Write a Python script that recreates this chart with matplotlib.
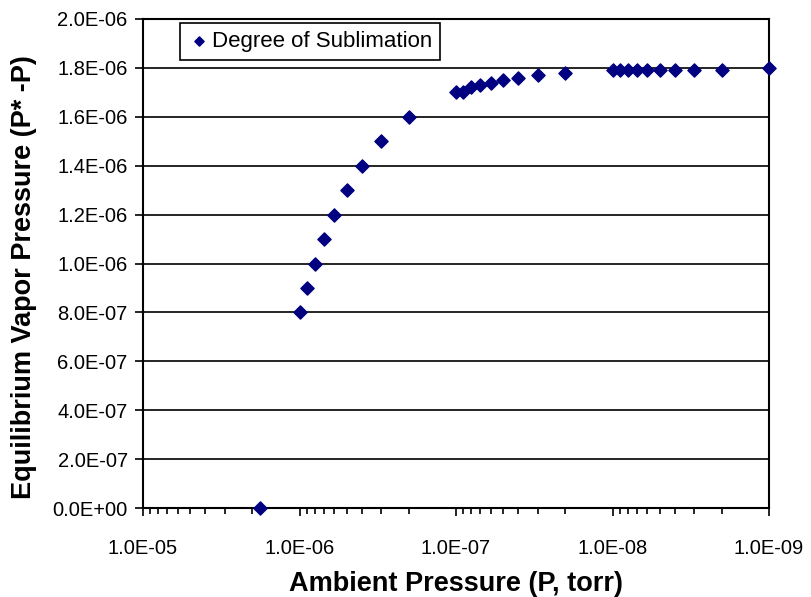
import numpy as np
import matplotlib
matplotlib.use("Agg")
import matplotlib.pyplot as plt
from matplotlib.ticker import FixedLocator, FuncFormatter, LogLocator, NullFormatter

plt.rcParams['font.family'] = ['Liberation Sans', 'DejaVu Sans']

# ambient pressure (torr) and equilibrium vapour pressure
ambient = [1.8e-6, 1e-6, 9e-7, 8e-7, 7e-7, 6e-7, 5e-7, 4e-7, 3e-7, 2e-7,
           1e-7, 9e-8, 8e-8, 7e-8, 6e-8, 5e-8, 4e-8, 3e-8, 2e-8,
           1e-8, 9e-9, 8e-9, 7e-9, 6e-9, 5e-9, 4e-9, 3e-9, 2e-9, 1e-9]
vapor = [0.0, 0.8e-6, 0.9e-6, 1.0e-6, 1.1e-6, 1.2e-6, 1.3e-6, 1.4e-6, 1.5e-6, 1.6e-6,
         1.70e-6, 1.70e-6, 1.72e-6, 1.73e-6, 1.74e-6, 1.75e-6, 1.76e-6, 1.77e-6, 1.78e-6,
         1.79e-6, 1.79e-6, 1.79e-6, 1.79e-6, 1.79e-6, 1.79e-6, 1.79e-6, 1.79e-6, 1.79e-6, 1.80e-6]
y_ticks = np.arange(0, 2.01e-6, 0.2e-6)

fig = plt.figure(figsize=(8.11, 5.97), dpi=100)
ax = fig.add_axes([143/811, 1 - 508/597, (769 - 143)/811, (508 - 19)/597])

ax.scatter(ambient, vapor, marker='D', s=45, color='#000080', zorder=3,
           clip_on=False, label='Degree of Sublimation')

ax.set_xscale('log')
ax.set_xlim(1e-5, 1e-9)
ax.set_ylim(0, 2e-6)

ax.xaxis.set_major_locator(FixedLocator([1e-5, 1e-6, 1e-7, 1e-8, 1e-9]))
ax.xaxis.set_minor_locator(LogLocator(base=10, subs=np.arange(2, 10)))
ax.xaxis.set_minor_formatter(NullFormatter())
ax.xaxis.set_major_formatter(FuncFormatter(lambda v, p: f"{v:.1E}"))
ax.yaxis.set_major_locator(FixedLocator(y_ticks))
ax.yaxis.set_major_formatter(FuncFormatter(lambda v, p: f"{v:.1E}"))

ax.tick_params(axis='both', which='major', labelsize=14.5, length=6, width=1.2,
               direction='out', colors='black')
ax.tick_params(axis='x', which='minor', length=4, width=1.2, direction='out')
ax.tick_params(axis='x', which='major', pad=16)
ax.tick_params(axis='y', which='major', pad=5)

ax.grid(axis='y', color='black', linewidth=1.2)
ax.set_axisbelow(True)
for s in ax.spines.values():
    s.set_linewidth(1.5)
    s.set_color('black')

ax.set_xlabel('Ambient Pressure (P, torr)', fontsize=19.5, fontweight='bold', labelpad=10)
ax.set_ylabel('Equilibrium Vapor Pressure (P* -P)', fontsize=19.5, fontweight='bold')
ax.yaxis.set_label_coords(-0.17, 0.472)

leg = ax.legend(loc='upper left', bbox_to_anchor=(0.052, 1.0), fontsize=16,
                frameon=True, fancybox=False, framealpha=1, handletextpad=0.1,
                borderpad=0.35, handlelength=1.0, markerscale=0.7, borderaxespad=0.2)
leg.get_frame().set_edgecolor('black')
leg.get_frame().set_linewidth(1.2)

fig.savefig('out.png', dpi=100)
